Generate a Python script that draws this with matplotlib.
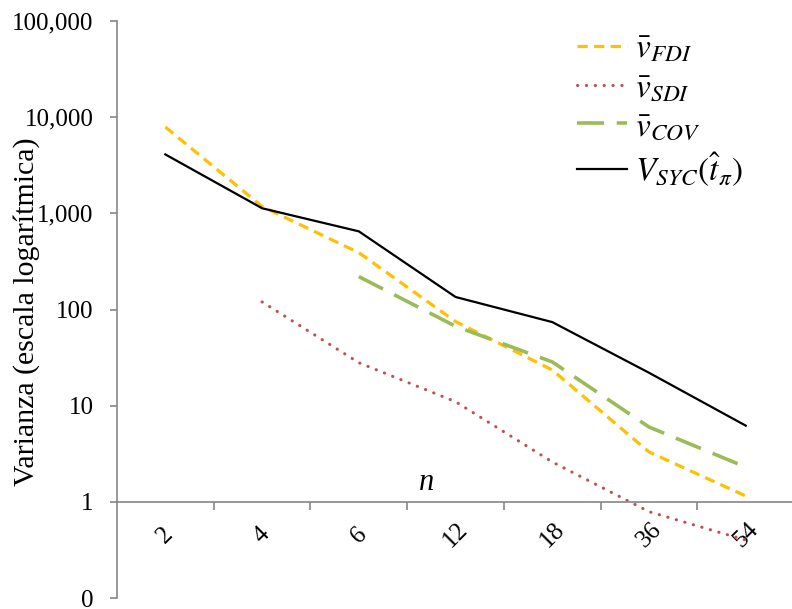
import numpy as np
import matplotlib
matplotlib.use('Agg')
import matplotlib.pyplot as plt
from matplotlib.ticker import FixedLocator, NullLocator

plt.rcParams['font.family'] = ['Liberation Serif', 'DejaVu Serif']
plt.rcParams['mathtext.fontset'] = 'stix'

# categorias de n
n_labels = ['2', '4', '6', '12', '18', '36', '54']

# varianzas (None = sin dato)
v_fdi = [7900, 1180, 390, 75, 23.5, 3.3, 1.15]
v_sdi = [None, 120, 28, 11, 2.6, 0.79, 0.40]
v_cov = [None, None, 220, 67, 28.5, 6.0, 2.3]
v_syc = [4100, 1130, 650, 135, 74, 22, 6.2]

y_ticks = [0.1, 1, 10, 100, 1000, 10000, 100000]
y_ticklabels = ['0', '1', '10', '100', '1,000', '10,000', '100,000']

def series(vals):
  x = [i for i, v in enumerate(vals) if v is not None]
  y = [v for v in vals if v is not None]
  return x, y

fig = plt.figure(figsize=(7.92, 6.09), dpi=100)
ax = fig.add_axes([0.1477, 0.018, 0.855, 0.9475])

x, y = series(v_fdi)
ax.plot(x, y, color='#FFC000', lw=2.3, dashes=(3.2, 2.0), label=r'$\bar{v}_{FDI}$')
x, y = series(v_sdi)
ax.plot(x, y, color='#C0504D', lw=2.2, dashes=(0.1, 2.8), dash_capstyle='round',
        label=r'$\bar{v}_{SDI}$')
x, y = series(v_cov)
ax.plot(x, y, color='#9BBB59', lw=2.6, dashes=(7.5, 3.5), label=r'$\bar{v}_{COV}$')
x, y = series(v_syc)
ax.plot(x, y, color='black', lw=1.6, label=r'$V_{SYC}(\hat{t}_{\pi})$')

ax.set_yscale('log')
ax.set_ylim(0.1, 100000)
ax.set_xlim(-0.5, 6.5)
ax.yaxis.set_major_locator(FixedLocator(y_ticks))
ax.yaxis.set_minor_locator(NullLocator())
ax.set_yticklabels(y_ticklabels)

# eje horizontal cruza en y = 1
ax.spines['bottom'].set_position(('data', 1))
ax.spines['top'].set_visible(False)
ax.spines['right'].set_visible(False)
for s in ['left', 'bottom']:
  ax.spines[s].set_color('#868686')
  ax.spines[s].set_linewidth(1.2)

ax.set_xticks(np.arange(0.5, 6.5, 1.0))
ax.set_xticklabels([])
ax.set_xticks(range(len(n_labels)), minor=True)
ax.set_xticklabels(n_labels, minor=True, rotation=45, fontsize=18, ha='center', va='center')
ax.tick_params(axis='x', which='major', direction='out', length=6, color='#868686', width=1.2)
ax.tick_params(axis='x', which='minor', length=0, pad=24)
ax.tick_params(axis='y', direction='out', length=5, color='#868686', width=1.2,
               labelsize=18, pad=12)

fig.text(27 / 792, 1 - 312 / 609, 'Varianza (escala logarítmica)', fontsize=21.5,
         rotation=90, ha='center', va='center')
ax.text(2.7, 1.6, 'n', fontsize=22, style='italic', ha='center', va='center')

fig.legend(loc='upper left', bbox_to_anchor=(577 / 792, 1 - 34 / 609), frameon=False,
           fontsize=24, handlelength=1.5, labelspacing=0.25, handletextpad=0.25,
           borderpad=0, borderaxespad=0)

fig.savefig('out.png', dpi=100)
